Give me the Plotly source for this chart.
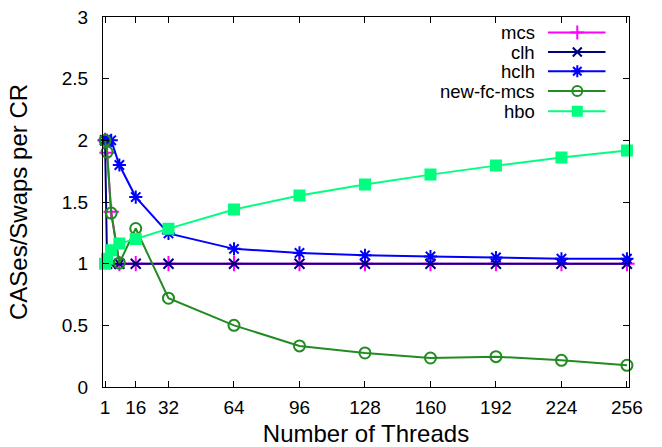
import plotly.graph_objects as go

threads = [1, 2, 4, 8, 16, 32, 64, 96, 128, 160, 192, 224, 256]
mcs = [2.0, 1.9, 1.42, 1.0, 1.0, 1.0, 1.0, 1.0, 1.0, 1.0, 1.0, 1.0, 1.0]
clh = [2.0, 1.0, 1.0, 1.0, 1.0, 1.0, 1.0, 1.0, 1.0, 1.0, 1.0, 1.0, 1.0]
hclh = [2.0, 2.0, 2.0, 1.80, 1.54, 1.245, 1.12, 1.087, 1.068, 1.058, 1.05, 1.04, 1.04]
new_fc_mcs = [2.0, 1.905, 1.41, 1.005, 1.285, 0.72, 0.50, 0.333, 0.276, 0.235, 0.246, 0.216, 0.176]
hbo = [1.0, 1.04, 1.108, 1.163, 1.20, 1.284, 1.439, 1.552, 1.641, 1.722, 1.795, 1.860, 1.917]

names = ["mcs", "clh", "hclh", "new-fc-mcs", "hbo"]
series = [mcs, clh, hclh, new_fc_mcs, hbo]
colors = ["#FF00FF", "#000080", "#0000FF", "#228B22", "#00FF7F"]
symbols = ["cross-thin-open", "x-thin-open", "asterisk-open", "circle-open", "square"]
sizes = [11, 10, 11, 11, 10]

x_ticks = [1, 16, 32, 64, 96, 128, 160, 192, 224, 256]
y_ticks = [0, 0.5, 1, 1.5, 2, 2.5, 3]
y_labels = ["0", "0.5", "1", "1.5", "2", "2.5", "3"]

FONT = "Liberation Sans, Arial, Helvetica, sans-serif"

fig = go.Figure()
for name, ys, c, s, sz in zip(names, series, colors, symbols, sizes):
    fig.add_trace(go.Scatter(
        x=threads, y=ys, name=name, mode="lines+markers",
        line=dict(color=c, width=2),
        marker=dict(symbol=s, size=sz, color=c, line=dict(color=c, width=2)),
        cliponaxis=False, showlegend=False,
    ))

# Custom gnuplot-style legend (text left, sample on the right) on an overlay axis in pixel units
PW, PH = 526, 370
leg_rows = [15.6, 35.0, 54.3, 74.0, 94.3]
for name, c, s, sz, ry in zip(names, colors, symbols, sizes, leg_rows):
    fig.add_trace(go.Scatter(
        x=[445, 502.5], y=[ry, ry], mode="lines", line=dict(color=c, width=2),
        xaxis="x2", yaxis="y2", showlegend=False, hoverinfo="skip"))
    fig.add_trace(go.Scatter(
        x=[474.3], y=[ry], mode="markers",
        marker=dict(symbol=s, size=sz - 1, color=c, line=dict(color=c, width=2)),
        xaxis="x2", yaxis="y2", showlegend=False, hoverinfo="skip"))
    fig.add_annotation(x=434, y=ry, xref="x2", yref="y2", text=name, showarrow=False,
                       xanchor="right", yanchor="middle",
                       font=dict(family=FONT, size=18.5, color="black"))

fig.update_layout(
    width=662, height=447,
    margin=dict(l=103, r=33, t=17, b=60, autoexpand=False),
    paper_bgcolor="white", plot_bgcolor="white",
    font=dict(family=FONT, color="black"),
    showlegend=False,
    xaxis=dict(
        range=[0, 257], tickvals=x_ticks, ticktext=[str(t) for t in x_ticks],
        ticks="inside", ticklen=6, tickcolor="black", tickwidth=1,
        showline=True, linecolor="black", linewidth=1, mirror="allticks",
        showgrid=False, zeroline=False, automargin=False,
        tickfont=dict(family=FONT, size=19), ticklabelstandoff=3,
        title=dict(text="Number of Threads", font=dict(family=FONT, size=24), standoff=10),
    ),
    yaxis=dict(
        range=[0, 3], tickvals=y_ticks, ticktext=y_labels,
        ticks="inside", ticklen=6, tickcolor="black", tickwidth=1,
        showline=True, linecolor="black", linewidth=1, mirror="allticks",
        showgrid=False, zeroline=False, automargin=False,
        tickfont=dict(family=FONT, size=19), ticklabelstandoff=10,
        title=dict(text="CASes/Swaps per CR", font=dict(family=FONT, size=24), standoff=27),
    ),
    xaxis2=dict(range=[0, PW], overlaying="x", visible=False, fixedrange=True),
    yaxis2=dict(range=[PH, 0], overlaying="y", visible=False, fixedrange=True),
)

fig.write_html("out.html")
